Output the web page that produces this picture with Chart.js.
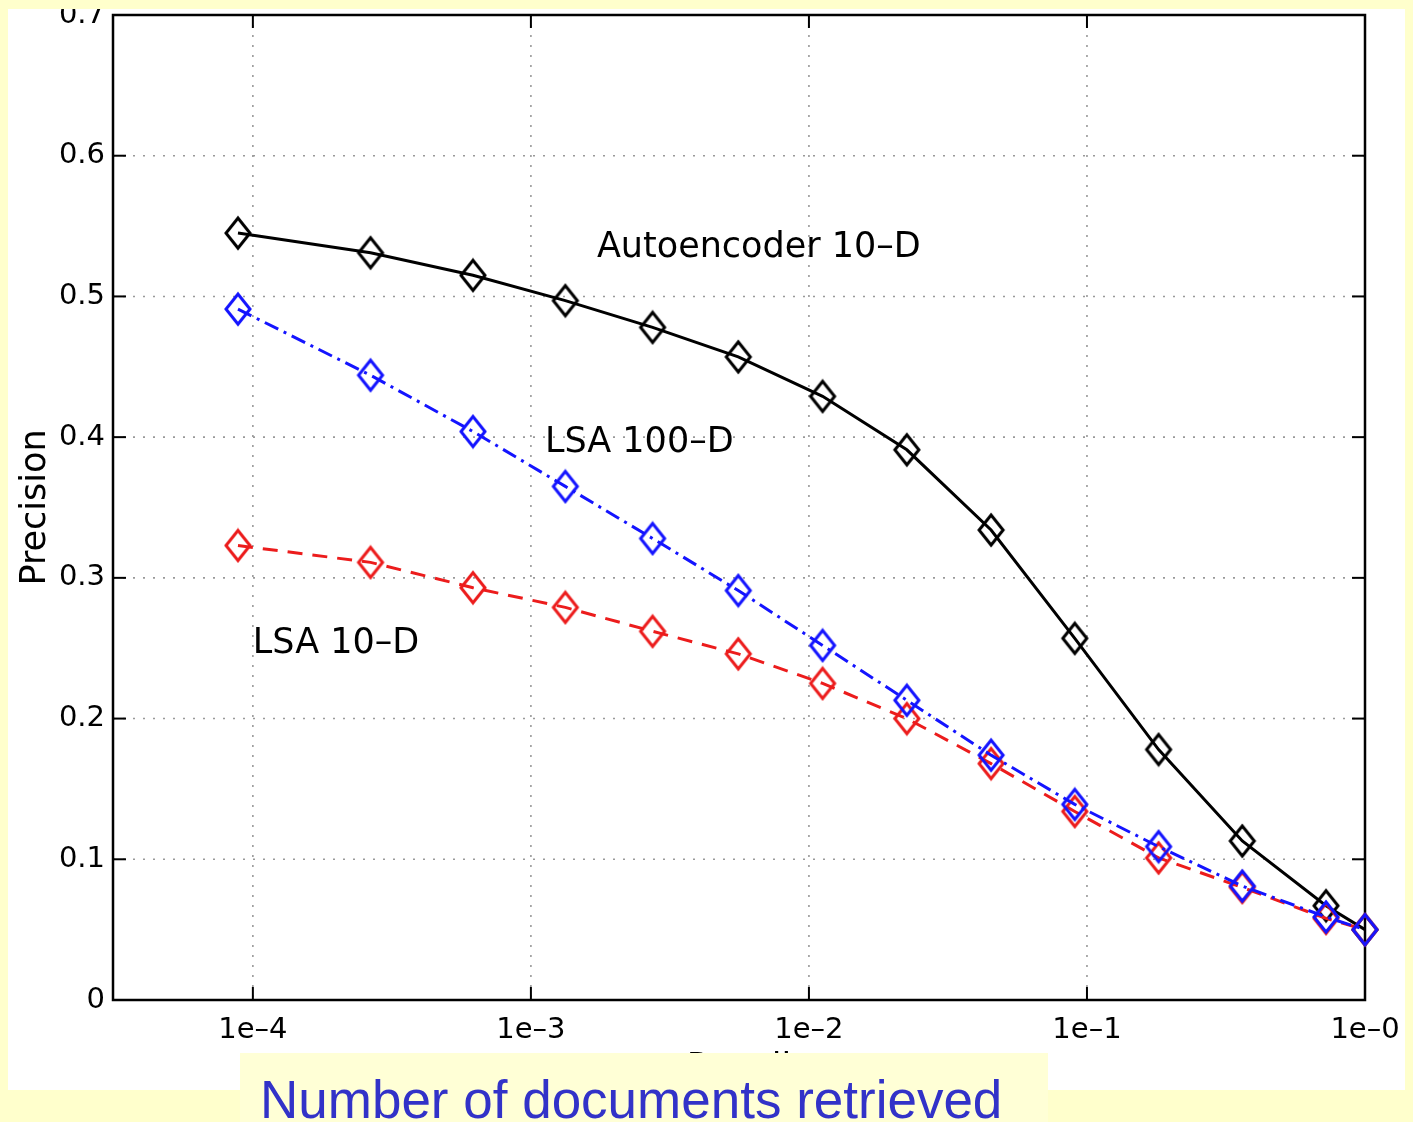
<!DOCTYPE html>
<html><head><meta charset="utf-8">
<script src="https://cdn.jsdelivr.net/npm/chart.js@4"></script>
<style>
html,body{margin:0;padding:0;background:#ffffcc;width:1413px;height:1122px;overflow:hidden;position:relative}
#panel{position:absolute;left:8px;top:9px;width:1397px;height:1081px;background:#fff}
#c{position:absolute;left:8px;top:9px}
#cap{position:absolute;left:240px;top:1053px;width:808px;height:69px;background:#ffffd6}
#capText{position:absolute;left:20px;top:20px;font-family:"Liberation Sans",Arial,sans-serif;font-size:53px;line-height:53px;color:#3232c8;white-space:nowrap}
</style></head>
<body>
<div id="panel"></div>
<canvas id="c" width="1397" height="1081"></canvas>
<div id="cap"><span id="capText">Number of documents retrieved</span></div>
<script>
// ---- data ----
const recall = [8.84e-5, 2.65e-4, 6.19e-4, 1.33e-3, 2.74e-3, 5.57e-3, 1.12e-2, 2.25e-2, 4.52e-2, 9.04e-2, 0.181, 0.362, 0.724, 1.0];
const autoencoder10D = [0.545, 0.531, 0.515, 0.497, 0.478, 0.457, 0.429, 0.391, 0.334, 0.257, 0.178, 0.113, 0.067, 0.050];
const lsa100D = [0.491, 0.444, 0.404, 0.365, 0.328, 0.291, 0.252, 0.213, 0.174, 0.139, 0.109, 0.081, 0.059, 0.050];
const lsa10D = [0.323, 0.311, 0.293, 0.279, 0.262, 0.246, 0.225, 0.200, 0.168, 0.134, 0.101, 0.080, 0.058, 0.050];
const xTickValues = [1e-4, 1e-3, 1e-2, 1e-1, 1];
const xTickLabels = ['1e–4', '1e–3', '1e–2', '1e–1', '1e–0'];
const yTickValues = [0, 0.1, 0.2, 0.3, 0.4, 0.5, 0.6, 0.7];
const yTickLabels = ['0', '0.1', '0.2', '0.3', '0.4', '0.5', '0.6', '0.7'];
const seriesLabels = ['Autoencoder 10–D', 'LSA 100–D', 'LSA 10–D'];
const xAxisTitle = 'Recall';
const yAxisTitle = 'Precision';

// ---- annotation placement (recall, precision of text baseline-left) ----
const annotationAt = [[1.727e-3, 0.528], [1.123e-3, 0.3895], [1.0e-4, 0.2466]];

const FONT = 'DejaVu Sans';
const BLUE = '#1414ff', RED = '#ec1c1c', BLACK = '#000000';

function diamond(color) {
  const c = document.createElement('canvas');
  c.width = 30; c.height = 36;
  const g = c.getContext('2d');
  g.strokeStyle = color; g.lineWidth = 3; g.lineJoin = 'miter';
  g.beginPath();
  g.moveTo(15, 3); g.lineTo(27, 18); g.lineTo(15, 33); g.lineTo(3, 18); g.closePath();
  g.stroke();
  return c;
}

function pts(arr) { return recall.map((x, i) => ({ x: x, y: arr[i] })); }
const noPad = () => ({ left: 0, top: 0, right: 0, bottom: 0 });

const framePlugin = {
  id: 'frame',
  beforeDatasetsDraw(chart) {
    const { ctx, chartArea, scales } = chart;
    const { left, right, top, bottom } = chartArea;
    const x = scales.x, y = scales.y;
    const seg = (a, b, c, d) => { ctx.beginPath(); ctx.moveTo(a, b); ctx.lineTo(c, d); ctx.stroke(); };
    ctx.save();
    ctx.strokeStyle = '#999999'; ctx.lineWidth = 1.6; ctx.setLineDash([2, 8]);
    xTickValues.forEach(v => { const p = x.getPixelForValue(v); if (p > left + 2 && p < right - 2) seg(p, top, p, bottom); });
    yTickValues.forEach(v => { const p = y.getPixelForValue(v); if (p > top + 2 && p < bottom - 2) seg(left, p, right, p); });
    ctx.setLineDash([]);
    ctx.strokeStyle = '#000'; ctx.lineWidth = 2;
    xTickValues.forEach(v => { const p = x.getPixelForValue(v); seg(p, bottom, p, bottom - 13); seg(p, top, p, top + 13); });
    yTickValues.forEach(v => { const p = y.getPixelForValue(v); seg(left, p, left + 13, p); seg(right, p, right - 13, p); });
    ctx.lineWidth = 2.5;
    ctx.strokeRect(left, top, right - left, bottom - top);
    ctx.restore();
  }
};

const textPlugin = {
  id: 'seriesText',
  afterDatasetsDraw(chart) {
    const { ctx, scales } = chart;
    ctx.save();
    ctx.fillStyle = '#000';
    ctx.font = '35px "' + FONT + '"';
    ctx.textAlign = 'left'; ctx.textBaseline = 'alphabetic';
    seriesLabels.forEach((t, i) => {
      ctx.fillText(t, scales.x.getPixelForValue(annotationAt[i][0]), scales.y.getPixelForValue(annotationAt[i][1]));
    });
    ctx.restore();
  }
};

new Chart(document.getElementById('c'), {
  type: 'line',
  data: {
    datasets: [
      { label: seriesLabels[1], data: pts(lsa100D), borderColor: BLUE, borderWidth: 3, borderDash: [15, 6, 3, 6],
        pointStyle: diamond(BLUE), pointRadius: 12, fill: false, tension: 0, clip: false },
      { label: seriesLabels[2], data: pts(lsa10D), borderColor: RED, borderWidth: 3, borderDash: [15, 10],
        pointStyle: diamond(RED), pointRadius: 12, fill: false, tension: 0, clip: false },
      { label: seriesLabels[0], data: pts(autoencoder10D), borderColor: BLACK, borderWidth: 3,
        pointStyle: diamond(BLACK), pointRadius: 12, fill: false, tension: 0, clip: false }
    ]
  },
  options: {
    responsive: false, animation: false, devicePixelRatio: 1,
    layout: { autoPadding: false, padding: { left: 0, top: 6, right: 40, bottom: 0 } },
    plugins: { legend: { display: false }, tooltip: { enabled: false } },
    scales: {
      x: {
        type: 'logarithmic', min: 3.14e-5, max: 1,
        grid: { display: false, drawTicks: false, tickLength: 0 }, border: { display: false },
        afterBuildTicks: s => { s.ticks = xTickValues.map(v => ({ value: v })); },
        ticks: { autoSkip: false, maxRotation: 0, minRotation: 0, padding: 13, color: '#000',
          font: { family: FONT, size: 29 }, callback: (v, i) => xTickLabels[i] },
        title: { display: true, text: xAxisTitle, color: '#000', font: { family: FONT, size: 35 }, padding: { top: 4, bottom: 0 } },
        afterFit: s => { s.height = 90; s.paddingLeft = 0; s.paddingRight = 0; s.paddingTop = 0; s.paddingBottom = 0; s.getPadding = noPad; }
      },
      y: {
        type: 'linear', min: 0, max: 0.7,
        grid: { display: false, drawTicks: false, tickLength: 0 }, border: { display: false },
        afterBuildTicks: s => { s.ticks = yTickValues.map(v => ({ value: v })); },
        ticks: { autoSkip: false, padding: 8, color: '#000',
          font: { family: FONT, size: 29 }, callback: (v, i) => yTickLabels[i] },
        title: { display: true, text: yAxisTitle, color: '#000', font: { family: FONT, size: 35 }, padding: { top: 7, bottom: 0 } },
        afterFit: s => { s.width = 105; s.paddingLeft = 0; s.paddingRight = 0; s.paddingTop = 0; s.paddingBottom = 0; s.getPadding = noPad; }
      }
    }
  },
  plugins: [framePlugin, textPlugin]
});
</script>
</body></html>
